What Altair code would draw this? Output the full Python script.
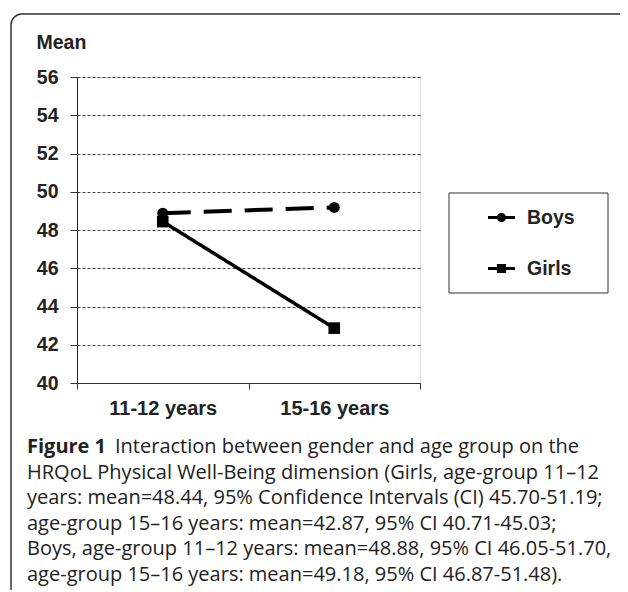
import altair as alt
import pandas as pd

# ---------------- data ----------------
ages = ["11-12 years", "15-16 years"]
series = ["Boys", "Girls"]
boys_mean = [48.88, 49.18]
girls_mean = [48.44, 42.87]
y_ticks = [40, 42, 44, 46, 48, 50, 52, 54, 56]
y_title = "Mean"
caption_bold = "Figure 1"
caption_first = "Interaction between gender and age group on the"
caption_lines = [
    "HRQoL Physical Well-Being dimension (Girls, age-group 11\u201312",
    "years: mean=48.44, 95% Confidence Intervals (CI) 45.70-51.19;",
    "age-group 15\u201316 years: mean=42.87, 95% CI 40.71-45.03;",
    "Boys, age-group 11\u201312 years: mean=48.88, 95% CI 46.05-51.70,",
    "age-group 15\u201316 years: mean=49.18, 95% CI 46.87-51.48).",
]

rows = []
for s, vals in zip(series, [boys_mean, girls_mean]):
    for a, v in zip(ages, vals):
        rows.append({"age": a, "series": s, "mean": v})
df = pd.DataFrame(rows)

# legend symbols: a short line with the marker on it (unit coordinates)
boys_sym = "M-1,-0.11H1V0.11H-1Z M-0.34,0A0.34,0.34 0 1,1 0.34,0A0.34,0.34 0 1,1 -0.34,0Z"
girls_sym = "M-1,-0.11H1V0.11H-1Z M-0.34,-0.34H0.34V0.34H-0.34Z"

AXFONT = "Liberation Sans"
W, H = 343, 306

x_enc = alt.X(
    "age:N",
    bandPosition=0.5,
    sort=ages,
    scale=alt.Scale(type="band", paddingInner=0, paddingOuter=0, domain=ages),
    axis=alt.Axis(
        title=None, labelAngle=0, grid=False, tickBand="extent",
        domainColor="#333", domainWidth=1, tickColor="#333", tickSize=6,
        labelFont=AXFONT, labelFontSize=20, labelFontWeight="bold",
        labelColor="#222", labelPadding=9,
    ),
)
y_enc = alt.Y(
    "mean:Q",
    scale=alt.Scale(domain=[40, 56], nice=False, zero=False),
    axis=alt.Axis(
        values=y_ticks, format="d", grid=True, gridDash=[3, 2], gridColor="#444",
        gridWidth=1, domainColor="#222", tickColor="#333", tickSize=7,
        labelFont=AXFONT, labelFontSize=19.5, labelFontWeight="bold",
        labelColor="#222", labelPadding=12,
        title=y_title, titleAngle=0, titleX=-41, titleY=-35, titleAlign="left",
        titleBaseline="middle", titleFont=AXFONT, titleFontSize=19.5,
        titleFontWeight="bold", titleColor="#222",
    ),
)

base = alt.Chart(df)

lines = base.mark_line(color="black", strokeCap="butt").encode(
    x=x_enc,
    y=y_enc,
    detail="series:N",
    strokeDash=alt.StrokeDash(
        "series:N", scale=alt.Scale(domain=series, range=[[28, 13], [1, 0]]), legend=None
    ),
    strokeWidth=alt.StrokeWidth(
        "series:N", scale=alt.Scale(domain=series, range=[4, 3.5]), legend=None
    ),
)

markers = base.mark_point(filled=True, color="black", opacity=1).encode(
    x=x_enc,
    y=y_enc,
    shape=alt.Shape("series:N", scale=alt.Scale(domain=series, range=["circle", "square"]), legend=None),
    size=alt.Size("series:N", scale=alt.Scale(domain=series, range=[120, 135]), legend=None),
)

legend_layer = base.mark_point(filled=True, color="black", opacity=0).encode(
    x=x_enc,
    y=y_enc,
    shape=alt.Shape(
        "series:N",
        scale=alt.Scale(domain=series, range=[boys_sym, girls_sym]),
        legend=alt.Legend(
            title=None, orient="none", legendX=411, legendY=127, padding=0,
            symbolSize=729, symbolFillColor="black", symbolStrokeWidth=0,
            symbolOpacity=1, rowPadding=28, labelOffset=12,
            labelFont=AXFONT, labelFontSize=19.5, labelFontWeight="bold",
            labelColor="#222",
        ),
    ),
)

one = alt.Data(values=[{"k": 1}])

legend_box = alt.Chart(one).mark_rect(
    filled=False, stroke="#333", strokeWidth=1
).encode(x=alt.value(372), x2=alt.value(531), y=alt.value(116), y2=alt.value(216))

border = alt.Chart(one).mark_rect(
    filled=False, stroke="#333", strokeWidth=1.5, cornerRadius=11
).encode(x=alt.value(-66), x2=alt.value(700), y=alt.value(-63), y2=alt.value(700))

CAPFONT = "Open Sans"
CAPSIZE = 20
cap_layers = [
    alt.Chart(one).mark_text(
        text=caption_bold, font=CAPFONT, fontSize=CAPSIZE, fontWeight="bold",
        align="left", baseline="middle", color="#222",
    ).encode(x=alt.value(-50), y=alt.value(370)),
    alt.Chart(one).mark_text(
        text=caption_first, font=CAPFONT, fontSize=CAPSIZE,
        align="left", baseline="middle", color="#222",
    ).encode(x=alt.value(38), y=alt.value(370)),
]
for i, t in enumerate(caption_lines):
    cap_layers.append(
        alt.Chart(one).mark_text(
            text=t, font=CAPFONT, fontSize=CAPSIZE,
            align="left", baseline="middle", color="#222",
        ).encode(x=alt.value(-50), y=alt.value(370 + (i + 1) * 25.6))
    )

chart = alt.layer(
    border, legend_box, lines, markers, legend_layer, *cap_layers
).resolve_scale(shape="independent", size="independent").properties(
    width=W, height=H,
    autosize=alt.AutoSizeParams(type="none"),
    padding={"left": 69, "top": 69, "right": 200, "bottom": 207},
).configure_view(stroke=None).configure(background="white")

chart.save("out.html", embed_options={"renderer": "svg", "actions": False})
